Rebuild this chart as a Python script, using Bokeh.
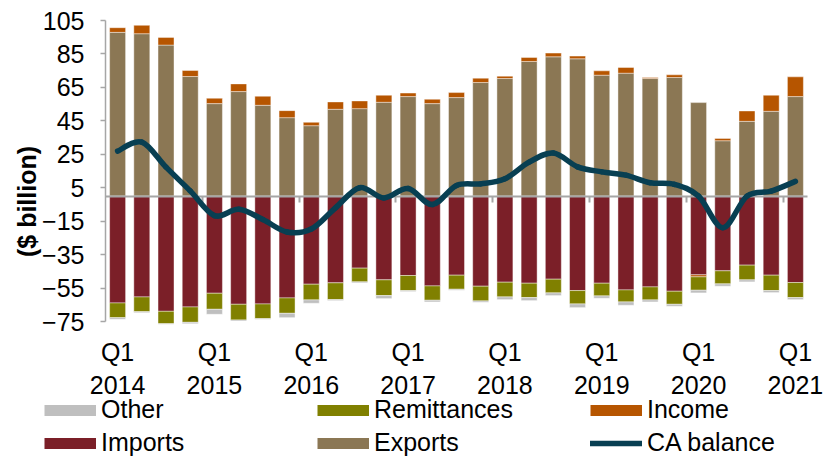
import numpy as np
from bokeh.plotting import figure
from bokeh.models import (Range1d, FixedTicker, LinearAxis, Legend, LegendItem, Label)
from bokeh.embed import file_html
from bokeh.resources import INLINE

# ---------------- data ----------------
quarters = ["Q1 2014", "Q2 2014", "Q3 2014", "Q4 2014",
            "Q1 2015", "Q2 2015", "Q3 2015", "Q4 2015",
            "Q1 2016", "Q2 2016", "Q3 2016", "Q4 2016",
            "Q1 2017", "Q2 2017", "Q3 2017", "Q4 2017",
            "Q1 2018", "Q2 2018", "Q3 2018", "Q4 2018",
            "Q1 2019", "Q2 2019", "Q3 2019", "Q4 2019",
            "Q1 2020", "Q2 2020", "Q3 2020", "Q4 2020",
            "Q1 2021"]

exports = [97.9, 97.1, 90.3, 71.5, 55.3, 62.5, 54.3, 46.9, 42.1, 51.9, 52.3, 56.1,
           59.5, 55.3, 58.9, 67.9, 70.3, 80.5, 83.3, 82.1, 72.3, 73.5, 70.3, 70.9,
           55.9, 33.1, 44.7, 50.7, 59.5]
imports = [-63.9, -60.3, -68.9, -66.3, -58.1, -64.7, -64.5, -60.9, -52.7, -51.9, -43.1, -50.1,
           -47.5, -53.7, -47.3, -53.9, -51.5, -52.1, -49.7, -56.5, -52.1, -56.1, -54.3, -56.9,
           -47.1, -44.7, -41.3, -47.3, -51.7]
income = [2.8, 5.0, 4.6, 3.6, 3.2, 4.6, 5.4, 4.2, 2.0, 4.4, 4.6, 4.2,
          2.1, 2.6, 3.0, 2.6, 1.4, 2.4, 2.2, 1.6, 2.6, 3.4, 0.6, 1.6,
          -1.2, 1.4, 6.2, 9.6, 11.8]
remittances = [-8.8, -8.8, -7.4, -9.2, -9.6, -9.4, -8.8, -9.2, -9.4, -10.0, -8.2, -9.4,
               -9.0, -8.6, -8.4, -8.8, -8.8, -8.6, -8.2, -8.0, -7.6, -7.2, -7.8, -7.8,
               -8.0, -7.8, -8.8, -9.2, -9.0]
other = [-1.0, -0.6, -0.4, -0.8, -3.0, -0.6, -0.4, -2.6, -2.0, -0.6, -0.6, -1.8,
         -0.6, -1.0, -0.6, -0.8, -1.6, -1.8, -1.6, -2.2, -1.4, -2.0, -1.2, -1.2,
         -1.6, -1.4, -1.2, -1.2, -1.2]
ca_balance = [26.9, 32.3, 17.3, 3.1, -11.7, -7.9, -14.0, -21.5, -19.7, -7.0, 5.0, -1.1,
              4.5, -5.1, 6.3, 7.3, 10.3, 20.3, 25.7, 17.5, 14.5, 12.5, 8.0, 7.0,
              0.0, -18.9, 0.0, 3.0, 8.8]

y_ticks = [-75, -55, -35, -15, 5, 25, 45, 65, 85, 105]

# ---------------- styles / layout ----------------
C_OTHER = "#BFBFBF"
C_REMIT = "#808000"
C_INCOME = "#B65500"
C_IMPORTS = "#7B1F28"
C_EXPORTS = "#8B7754"
C_CA = "#083F52"
AXIS_GREY = "#A6A6A6"
FONT = "Liberation Sans"
FS = "25px"

W, H = 831, 457
PLOT_L, PLOT_R, PLOT_T, PLOT_B = 105, 807, 20, 321   # pixel box of the data area

n = len(quarters)
xs = np.arange(n, dtype=float)
x_lo, x_hi = -0.5, n - 0.5
y_lo, y_hi = min(y_ticks), max(y_ticks)
kx = (PLOT_R - PLOT_L) / (x_hi - x_lo)
ky = (PLOT_B - PLOT_T) / (y_hi - y_lo)
x_range = Range1d(x_lo - PLOT_L / kx, x_hi + (W - PLOT_R) / kx)
y_range = Range1d(y_lo - (H - PLOT_B) / ky, y_hi + PLOT_T / ky)

p = figure(width=W, height=H, output_backend="svg", toolbar_location=None,
           x_range=x_range, y_range=y_range,
           x_axis_location=None, y_axis_location=None, min_border=0)
p.outline_line_color = None
p.xgrid.visible = False
p.ygrid.visible = False
p.background_fill_color = "white"
p.border_fill_color = "white"

# ---------------- stacked bars ----------------
stack = [(exports, C_EXPORTS), (imports, C_IMPORTS), (income, C_INCOME),
         (remittances, C_REMIT), (other, C_OTHER)]
pos = np.zeros(n)
neg = np.zeros(n)
for vals, color in stack:
    v = np.array(vals, dtype=float)
    bottom = np.where(v >= 0, pos, neg)
    top = bottom + v
    pos = np.where(v >= 0, top, pos)
    neg = np.where(v < 0, top, neg)
    p.vbar(x=xs, bottom=bottom, top=top, width=0.66, fill_color=color,
           line_color="white", line_width=0.6, line_alpha=0.7)

# ---------------- smoothed CA balance line ----------------
Y = np.array(ca_balance, dtype=float)
Xprev = np.r_[xs[0], xs[:-1]]
Yprev = np.r_[Y[0], Y[:-1]]
Xnext = np.r_[xs[1:], xs[-1]]
Ynext = np.r_[Y[1:], Y[-1]]
cx0 = xs[:-1] + (xs[1:] - Xprev[:-1]) / 6.0
cy0 = Y[:-1] + (Y[1:] - Yprev[:-1]) / 6.0
cx1 = xs[1:] - (Xnext[1:] - xs[:-1]) / 6.0
cy1 = Y[1:] - (Ynext[1:] - Y[:-1]) / 6.0
p.bezier(x0=xs[:-1], y0=Y[:-1], x1=xs[1:], y1=Y[1:], cx0=cx0, cy0=cy0, cx1=cx1, cy1=cy1,
         line_color=C_CA, line_width=5.5, line_cap="round", level="overlay")

# ---------------- axes ----------------
yax = LinearAxis(fixed_location=x_lo, bounds=(y_lo, y_hi), ticker=FixedTicker(ticks=y_ticks),
                 axis_line_color=AXIS_GREY, axis_line_width=1.5,
                 major_tick_line_color=AXIS_GREY, major_tick_line_width=1.5,
                 major_tick_in=0, major_tick_out=5, minor_tick_line_color=None,
                 major_label_text_font=FONT, major_label_text_font_size=FS,
                 major_label_text_color="black", major_label_standoff=16)
p.add_layout(yax, "left")

q1_idx = [i for i, q in enumerate(quarters) if q.startswith("Q1")]
xax = LinearAxis(fixed_location=y_lo, ticker=FixedTicker(ticks=q1_idx),
                 major_label_overrides={i: quarters[i].replace(" ", "\n") for i in q1_idx},
                 axis_line_color=None, major_tick_line_color=None, minor_tick_line_color=None,
                 major_label_text_font=FONT, major_label_text_font_size=FS,
                 major_label_text_color="black", major_label_standoff=10)
p.add_layout(xax, "below")

boundaries = [i - 0.5 for i in q1_idx if i > 0]
zero_axis = LinearAxis(fixed_location=0, bounds=(x_lo, x_hi), ticker=FixedTicker(ticks=boundaries),
                       axis_line_color=AXIS_GREY, axis_line_width=2,
                       major_tick_line_color=AXIS_GREY, major_tick_line_width=2,
                       major_tick_in=0, major_tick_out=6,
                       minor_tick_line_color=None,
                       major_label_text_font_size="0px", major_label_text_color=None)
p.add_layout(zero_axis, "below")

p.add_layout(Label(x=26, y=H - 201, x_units="screen", y_units="screen", text="($ billion)",
                   angle=np.pi / 2, text_align="center", text_baseline="middle",
                   text_font=FONT, text_font_size=FS, text_font_style="bold",
                   text_color="black"))

# ---------------- legend ----------------
def swatch(color, width=11, cap="butt"):
    # legend-only renderer: its points are NaN so nothing is drawn in the plot area
    return p.line(x=[np.nan, np.nan], y=[np.nan, np.nan], line_color=color,
                  line_width=width, line_cap=cap)

items = [
    LegendItem(label="Other", renderers=[swatch(C_OTHER)]),
    LegendItem(label="Remittances", renderers=[swatch(C_REMIT)]),
    LegendItem(label="Income", renderers=[swatch(C_INCOME)]),
    LegendItem(label="Imports", renderers=[swatch(C_IMPORTS)]),
    LegendItem(label="Exports", renderers=[swatch(C_EXPORTS)]),
    LegendItem(label="CA balance", renderers=[swatch(C_CA, 5.5, "round")]),
]
legend = Legend(items=items, orientation="horizontal", ncols=3,
                location=(44, 0), margin=0, padding=0, spacing=4,
                glyph_width=52, glyph_height=12, label_standoff=5, label_width=212,
                label_text_font=FONT, label_text_font_size=FS, label_text_color="black",
                background_fill_alpha=0, border_line_color=None)
p.add_layout(legend, "center")

open("out.html", "w").write(file_html(p, INLINE))
